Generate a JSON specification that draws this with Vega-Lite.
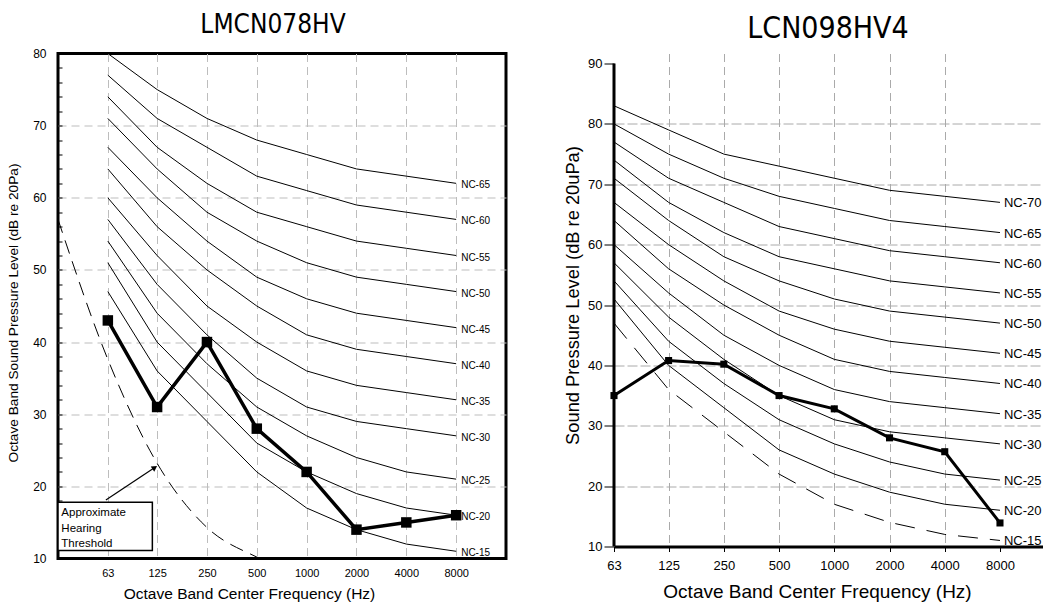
{
  "$schema": "https://vega.github.io/schema/vega-lite/v6.json",
  "background": "white",
  "padding": {"left": 5, "top": 10.5, "right": 0, "bottom": 0},
  "spacing": 55,
  "config": {
    "view": {"stroke": null},
    "font": "Liberation Sans",
    "text": {"font": "Liberation Sans", "color": "black"},
    "axis": {"labelColor": "black", "titleColor": "black", "titleFontWeight": "normal", "labelFont": "Liberation Sans", "titleFont": "Liberation Sans", "labelFlush": false, "labelOverlap": false}
  },
  "datasets": {
    "nc": [
      {"curve": "NC-15", "freq": 63, "level": 47}, {"curve": "NC-15", "freq": 125, "level": 36}, {"curve": "NC-15", "freq": 250, "level": 29}, {"curve": "NC-15", "freq": 500, "level": 22}, {"curve": "NC-15", "freq": 1000, "level": 17}, {"curve": "NC-15", "freq": 2000, "level": 14}, {"curve": "NC-15", "freq": 4000, "level": 12}, {"curve": "NC-15", "freq": 8000, "level": 11},
      {"curve": "NC-20", "freq": 63, "level": 51}, {"curve": "NC-20", "freq": 125, "level": 40}, {"curve": "NC-20", "freq": 250, "level": 33}, {"curve": "NC-20", "freq": 500, "level": 26}, {"curve": "NC-20", "freq": 1000, "level": 22}, {"curve": "NC-20", "freq": 2000, "level": 19}, {"curve": "NC-20", "freq": 4000, "level": 17}, {"curve": "NC-20", "freq": 8000, "level": 16},
      {"curve": "NC-25", "freq": 63, "level": 54}, {"curve": "NC-25", "freq": 125, "level": 44}, {"curve": "NC-25", "freq": 250, "level": 37}, {"curve": "NC-25", "freq": 500, "level": 31}, {"curve": "NC-25", "freq": 1000, "level": 27}, {"curve": "NC-25", "freq": 2000, "level": 24}, {"curve": "NC-25", "freq": 4000, "level": 22}, {"curve": "NC-25", "freq": 8000, "level": 21},
      {"curve": "NC-30", "freq": 63, "level": 57}, {"curve": "NC-30", "freq": 125, "level": 48}, {"curve": "NC-30", "freq": 250, "level": 41}, {"curve": "NC-30", "freq": 500, "level": 35}, {"curve": "NC-30", "freq": 1000, "level": 31}, {"curve": "NC-30", "freq": 2000, "level": 29}, {"curve": "NC-30", "freq": 4000, "level": 28}, {"curve": "NC-30", "freq": 8000, "level": 27},
      {"curve": "NC-35", "freq": 63, "level": 60}, {"curve": "NC-35", "freq": 125, "level": 52}, {"curve": "NC-35", "freq": 250, "level": 45}, {"curve": "NC-35", "freq": 500, "level": 40}, {"curve": "NC-35", "freq": 1000, "level": 36}, {"curve": "NC-35", "freq": 2000, "level": 34}, {"curve": "NC-35", "freq": 4000, "level": 33}, {"curve": "NC-35", "freq": 8000, "level": 32},
      {"curve": "NC-40", "freq": 63, "level": 64}, {"curve": "NC-40", "freq": 125, "level": 56}, {"curve": "NC-40", "freq": 250, "level": 50}, {"curve": "NC-40", "freq": 500, "level": 45}, {"curve": "NC-40", "freq": 1000, "level": 41}, {"curve": "NC-40", "freq": 2000, "level": 39}, {"curve": "NC-40", "freq": 4000, "level": 38}, {"curve": "NC-40", "freq": 8000, "level": 37},
      {"curve": "NC-45", "freq": 63, "level": 67}, {"curve": "NC-45", "freq": 125, "level": 60}, {"curve": "NC-45", "freq": 250, "level": 54}, {"curve": "NC-45", "freq": 500, "level": 49}, {"curve": "NC-45", "freq": 1000, "level": 46}, {"curve": "NC-45", "freq": 2000, "level": 44}, {"curve": "NC-45", "freq": 4000, "level": 43}, {"curve": "NC-45", "freq": 8000, "level": 42},
      {"curve": "NC-50", "freq": 63, "level": 71}, {"curve": "NC-50", "freq": 125, "level": 64}, {"curve": "NC-50", "freq": 250, "level": 58}, {"curve": "NC-50", "freq": 500, "level": 54}, {"curve": "NC-50", "freq": 1000, "level": 51}, {"curve": "NC-50", "freq": 2000, "level": 49}, {"curve": "NC-50", "freq": 4000, "level": 48}, {"curve": "NC-50", "freq": 8000, "level": 47},
      {"curve": "NC-55", "freq": 63, "level": 74}, {"curve": "NC-55", "freq": 125, "level": 67}, {"curve": "NC-55", "freq": 250, "level": 62}, {"curve": "NC-55", "freq": 500, "level": 58}, {"curve": "NC-55", "freq": 1000, "level": 56}, {"curve": "NC-55", "freq": 2000, "level": 54}, {"curve": "NC-55", "freq": 4000, "level": 53}, {"curve": "NC-55", "freq": 8000, "level": 52},
      {"curve": "NC-60", "freq": 63, "level": 77}, {"curve": "NC-60", "freq": 125, "level": 71}, {"curve": "NC-60", "freq": 250, "level": 67}, {"curve": "NC-60", "freq": 500, "level": 63}, {"curve": "NC-60", "freq": 1000, "level": 61}, {"curve": "NC-60", "freq": 2000, "level": 59}, {"curve": "NC-60", "freq": 4000, "level": 58}, {"curve": "NC-60", "freq": 8000, "level": 57},
      {"curve": "NC-65", "freq": 63, "level": 80}, {"curve": "NC-65", "freq": 125, "level": 75}, {"curve": "NC-65", "freq": 250, "level": 71}, {"curve": "NC-65", "freq": 500, "level": 68}, {"curve": "NC-65", "freq": 1000, "level": 66}, {"curve": "NC-65", "freq": 2000, "level": 64}, {"curve": "NC-65", "freq": 4000, "level": 63}, {"curve": "NC-65", "freq": 8000, "level": 62},
      {"curve": "NC-70", "freq": 63, "level": 83}, {"curve": "NC-70", "freq": 125, "level": 79}, {"curve": "NC-70", "freq": 250, "level": 75}, {"curve": "NC-70", "freq": 500, "level": 73}, {"curve": "NC-70", "freq": 1000, "level": 71}, {"curve": "NC-70", "freq": 2000, "level": 69}, {"curve": "NC-70", "freq": 4000, "level": 68}, {"curve": "NC-70", "freq": 8000, "level": 67}
    ],
    "lmcn078hv": [
      {"freq": 63, "level": 43}, {"freq": 125, "level": 31}, {"freq": 250, "level": 40}, {"freq": 500, "level": 28},
      {"freq": 1000, "level": 22}, {"freq": 2000, "level": 14}, {"freq": 4000, "level": 15}, {"freq": 8000, "level": 16}
    ],
    "lcn098hv4": [
      {"freq": 63, "level": 35}, {"freq": 125, "level": 40.8}, {"freq": 250, "level": 40.2}, {"freq": 500, "level": 35},
      {"freq": 1000, "level": 32.8}, {"freq": 2000, "level": 28}, {"freq": 4000, "level": 25.7}, {"freq": 8000, "level": 13.9}
    ],
    "threshold": [
      {"freq": 31.5, "level": 57}, {"freq": 63, "level": 37.6}, {"freq": 125, "level": 23.2}, {"freq": 250, "level": 14.3},
      {"freq": 500, "level": 10.2}, {"freq": 1000, "level": 7.5}
    ],
    "note_box": [{"from_hz": 31.5, "to_hz": 117, "low": 11.1, "high": 17.8}],
    "note_text": [{"hz": 33, "level": 15.85, "note": "Approximate|Hearing|Threshold"}],
    "note_arrow": [{"from_hz": 61.3, "from_level": 18.1, "to_hz": 121, "to_level": 22.6}],
    "frame_left": [{"freq": 63, "low": 10, "high": 90}]
  },
  "hconcat": [
    {
      "width": 448,
      "height": 505,
      "title": {"text": "LMCN078HV", "font": "DejaVu Sans Condensed, Liberation Sans, sans-serif", "fontSize": 26, "fontWeight": "normal", "color": "black", "offset": 9.5, "dx": -9},
      "view": {"stroke": "black", "strokeWidth": 3},
      "encoding": {
        "x": {"field": "freq", "type": "quantitative",
          "scale": {"type": "log", "base": 2, "domain": [31.5, 16000], "nice": false},
          "axis": {"values": [63, 125, 250, 500, 1000, 2000, 4000, 8000], "format": "d", "title": "Octave Band Center Frequency (Hz)",
            "titleFontSize": 15.5, "labelFontSize": 11, "ticks": false, "labelPadding": 8.5, "domain": false,
            "grid": true, "gridColor": "#bdbdbd", "gridDash": [8, 5], "titlePadding": 8, "titleX": 191}},
        "y": {"field": "level", "type": "quantitative",
          "scale": {"domain": [10, 80], "nice": false, "zero": false},
          "axis": {"values": [10, 12, 14, 16, 18, 20, 22, 24, 26, 28, 30, 32, 34, 36, 38, 40, 42, 44, 46, 48, 50, 52, 54, 56, 58, 60, 62, 64, 66, 68, 70, 72, 74, 76, 78, 80],
            "labelExpr": "datum.value % 10 === 0 ? datum.label : ''",
            "tickSize": -4, "tickColor": "black", "labelPadding": 16, "labelFontSize": 12, "domain": false,
            "grid": true, "gridColor": "#bdbdbd", "gridDash": [8, 5],
            "gridOpacity": {"condition": {"test": "datum.value % 10 === 0 && datum.value > 10 && datum.value < 80", "value": 1}, "value": 0},
            "title": "Octave Band Sound Pressure Level (dB re 20Pa)", "titleFontSize": 13.7, "titlePadding": 12, "titleY": 259}}
      },
      "layer": [
        {
          "data": {"name": "note_box"},
          "mark": {"type": "rect", "fill": "white", "stroke": "black", "strokeWidth": 1.5},
          "encoding": {"x": {"field": "from_hz", "type": "quantitative"}, "x2": {"field": "to_hz"}, "y": {"field": "low", "type": "quantitative"}, "y2": {"field": "high"}}
        },
        {
          "data": {"name": "note_text"},
          "mark": {"type": "text", "align": "left", "baseline": "alphabetic", "fontSize": 11.5, "lineBreak": "|", "lineHeight": 15.5},
          "encoding": {"x": {"field": "hz", "type": "quantitative"}, "y": {"field": "level", "type": "quantitative"}, "text": {"field": "note"}}
        },
        {
          "data": {"name": "note_arrow"},
          "mark": {"type": "rule", "color": "black", "strokeWidth": 1.2},
          "encoding": {"x": {"field": "from_hz", "type": "quantitative"}, "y": {"field": "from_level", "type": "quantitative"}, "x2": {"field": "to_hz"}, "y2": {"field": "to_level"}}
        },
        {
          "data": {"name": "note_arrow"},
          "mark": {"type": "point", "shape": "triangle-right", "filled": true, "color": "black", "size": 40, "angle": 326, "opacity": 1},
          "encoding": {"x": {"field": "to_hz", "type": "quantitative"}, "y": {"field": "to_level", "type": "quantitative"}}
        },
        {
          "data": {"name": "threshold"},
          "mark": {"type": "line", "color": "black", "strokeWidth": 1, "strokeDash": [14, 8], "interpolate": "monotone", "clip": true},
          "encoding": {}
        },
        {
          "data": {"name": "nc"},
          "transform": [{"filter": "datum.curve !== 'NC-70'"}],
          "mark": {"type": "line", "color": "black", "strokeWidth": 1},
          "encoding": {"detail": {"field": "curve"}}
        },
        {
          "data": {"name": "nc"},
          "transform": [{"filter": "datum.curve !== 'NC-70' && datum.freq === 8000"}],
          "mark": {"type": "text", "align": "left", "baseline": "middle", "dx": 5, "dy": 2, "fontSize": 10},
          "encoding": {"text": {"field": "curve"}}
        },
        {
          "data": {"name": "lmcn078hv"},
          "mark": {"type": "line", "color": "black", "strokeWidth": 3.5},
          "encoding": {}
        },
        {
          "data": {"name": "lmcn078hv"},
          "mark": {"type": "point", "shape": "square", "filled": true, "color": "black", "size": 110, "opacity": 1},
          "encoding": {}
        }
      ]
    },
    {
      "width": 430,
      "height": 493,
      "title": {"text": "LCN098HV4", "font": "DejaVu Sans Condensed, Liberation Sans, sans-serif", "fontSize": 30, "fontWeight": "normal", "color": "black", "offset": 9.7, "dx": -1},
      "encoding": {
        "x": {"field": "freq", "type": "quantitative",
          "scale": {"type": "log", "base": 2, "domain": [63, 13900], "nice": false},
          "axis": {"values": [63, 125, 250, 500, 1000, 2000, 4000, 8000], "format": "d", "title": "Octave Band Center Frequency (Hz)",
            "titleFontSize": 19, "labelFontSize": 13, "tickSize": 5, "tickColor": "black", "labelPadding": 8,
            "domain": true, "domainColor": "black", "domainWidth": 3,
            "grid": true, "gridColor": "#aaaaaa", "gridDash": [8, 5],
            "gridOpacity": {"condition": {"test": "datum.value === 63 || datum.value === 8000", "value": 0}, "value": 1},
            "titlePadding": 10, "titleX": 203}},
        "y": {"field": "level", "type": "quantitative",
          "scale": {"domain": [10, 91.66], "nice": false, "zero": false},
          "axis": {"values": [10, 20, 30, 40, 50, 60, 70, 80, 90], "tickSize": 10, "tickColor": "black", "labelPadding": 2, "labelFontSize": 13,
            "domain": false,
            "grid": true, "gridColor": "#aaaaaa", "gridDash": [10, 3],
            "gridOpacity": {"condition": {"test": "datum.value === 10 || datum.value === 90", "value": 0}, "value": 1},
            "title": "Sound Pressure Level (dB re 20uPa)", "titleFontSize": 18.3, "titlePadding": 5, "titleY": 241.5}}
      },
      "layer": [
        {
          "mark": {"type": "rule", "color": "black", "strokeWidth": 3},
          "encoding": {"y": {"datum": 90}}
        },
        {
          "data": {"name": "frame_left"},
          "mark": {"type": "rule", "color": "black", "strokeWidth": 3},
          "encoding": {"x": {"field": "freq", "type": "quantitative"}, "y": {"field": "low", "type": "quantitative"}, "y2": {"field": "high"}}
        },
        {
          "data": {"name": "nc"},
          "transform": [{"filter": "datum.curve !== 'NC-15'"}],
          "mark": {"type": "line", "color": "black", "strokeWidth": 1},
          "encoding": {"detail": {"field": "curve"}}
        },
        {
          "data": {"name": "nc"},
          "transform": [{"filter": "datum.curve === 'NC-15'"}],
          "mark": {"type": "line", "color": "black", "strokeWidth": 1, "strokeDash": [20, 12]},
          "encoding": {}
        },
        {
          "data": {"name": "nc"},
          "transform": [{"filter": "datum.freq === 8000"}],
          "mark": {"type": "text", "align": "left", "baseline": "middle", "dx": 4, "dy": 1, "fontSize": 13},
          "encoding": {"text": {"field": "curve"}}
        },
        {
          "data": {"name": "lcn098hv4"},
          "mark": {"type": "line", "color": "black", "strokeWidth": 3},
          "encoding": {}
        },
        {
          "data": {"name": "lcn098hv4"},
          "mark": {"type": "point", "shape": "square", "filled": true, "color": "black", "size": 50, "opacity": 1},
          "encoding": {}
        }
      ]
    }
  ]
}
